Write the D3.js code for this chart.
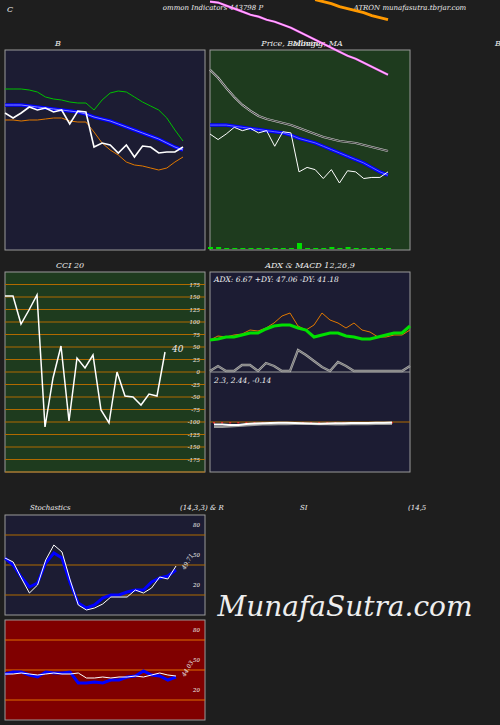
<!DOCTYPE html>
<html><head><meta charset="utf-8">
<script src="https://cdn.jsdelivr.net/npm/d3@7"></script>
<style>body{margin:0;background:#1e1e1e}text{font-family:"DejaVu Serif",serif;font-style:italic;fill:#eee}</style>
</head><body><svg id="c" width="500" height="725"></svg>
<script>
// Bollinger / price (price units)
var bbUpper = [161,161,161,160,158,153,151,150,148,147,147,140,150,157,159,158,153,148,144,140,132,120,109];
var bbMid   = [145,145,145,144,143,142,141,140,139,138,136,133,131,129,126,123,120,117,114,111,107,103,100];
var bbLower = [130,130,129,130,130,131,132,132,129,128,128,118,107,100,95,88,85,84,82,80,82,88,93];
var price   = [137,132,137,143,140,142,138,140,126,139,138,103,107,105,97,105,93,104,103,97,98,98,103];
var ma50    = [194.7,187.5,178.4,170.3,163.1,157.7,153.2,150.5,148.7,146.9,145.1,142.4,139.7,137,134.3,132.5,130.7,129.8,128.9,127.1,125.3,123.5,121.7];
var ma100   = [255.9,255,252.3,249.6,246.9,244.1,242.4,239.6,237.8,235.1,232.4,228.8,225.2,221.6,218,214.4,210.8,207.2,204.6,201,197.4,193.8,190.2];
var ma200   = [null,null,null,null,null,null,null,null,null,null,null,null,null,257.7,255.9,254.1,251.4,249.6,247.8,246,243.3,241.5,239.7];
var volume  = [2,2,1,1,1,1,1,1,1,1,1,6,1,1,1,2,1,2,1,1,1,1,1];
var cci     = [152,152,96,124,154,-110,-12,52,-98,28,8,34,-76,-102,0,-48,-50,-66,-44,-48,40];
var cciTicks = [175,150,125,100,75,50,25,0,-25,-50,-75,-100,-125,-150,-175];
var adx     = [32,33,35,35,37,39,39,43,46,47,47,44,42,35,37,39,39,36,35,33,33,35,37,39,39,46];
var plusDI  = [32,36,35,37,38,42,41,44,49,56,59,46,42,47,59,52,49,44,49,42,40,35,35,37,37,42];
var minusDI = [1,6,1,1,7,7,1,9,6,1,1,22,17,11,5,1,10,6,1,1,1,1,1,1,1,6];
var macd    = [-1,-1,-1.2,-1.2,-0.8,-0.6,-0.5,-0.4,-0.3,-0.3,-0.4,-0.5,-0.6,-0.7,-0.6,-0.5,-0.5,-0.4,-0.4,-0.4,-0.3,-0.3,-0.2];
var signal  = [-2,-2,-1.8,-1.6,-1.4,-1.2,-1,-1,-0.9,-0.9,-0.8,-0.8,-0.8,-0.9,-0.9,-1,-1,-0.9,-0.9,-0.9,-0.8,-0.8,-0.8];
var stochK  = [57,53,37,22,30,55,70,63,35,10,5,7,11,18,18,18,25,22,27,38,36,49];
var stochD  = [57,50,38,28,32,52,62,57,32,12,7,10,17,20,20,23,25,25,33,37,39,45];
var rsi     = [46,46,47,46,45,46,47,46,46,47,42,42,43,42,43,43,44,43,45,47,45,44];
var rsiMA   = [46,48,48,45,43,48,47,47,48,37,37,38,37,40,40,43,44,49,45,44,40,43];
var bandTicks = [80,50,20];

var svg = d3.select("#c");
function label(x,y,t,size,anchor){
  return svg.append("text").attr("x",x).attr("y",y).attr("font-size",size||10)
    .attr("text-anchor",anchor||"start").text(t);
}
function panel(x,y,w,h,fill){
  svg.append("rect").attr("x",x).attr("y",y).attr("width",w).attr("height",h)
    .attr("fill",fill).attr("stroke","#999").attr("stroke-width",1);
}
function line(data,xs,ys,color,width){
  var g = d3.line().defined(function(d){return d!=null;})
    .x(function(d,i){return xs(i);}).y(function(d){return ys(d);});
  svg.append("path").datum(data).attr("d",g).attr("fill","none")
    .attr("stroke",color).attr("stroke-width",width);
}
function dbl(data,xs,ys,outer,inner,w){ line(data,xs,ys,outer,w+1.5); line(data,xs,ys,inner,w*0.5); }

// headers
label(7,12,"C",8);
label(213,10,"ommon  Indicators 443798  P",7,"middle");
label(410,10,"ATRON  munafasutra.tbrjar.com",7,"middle");
label(58,46,"B",8,"middle");
label(302,46,"Price,  Bollinger,  MA",8,"middle");
label(302,46,"Moving",8,"middle").attr("dx",6);
label(495,46,"B",8);

// Bollinger panel
panel(5,50,200,200,"#1c1c33");
var xb = d3.scaleLinear().domain([0,22]).range([5,183]);
var yb = d3.scaleLinear().domain([0,200]).range([250,50]);
line(bbUpper,xb,yb,"#00c000",1);
line(bbLower,xb,yb,"#e07800",1);
dbl(bbMid,xb,yb,"#0000ff","#8888ff",2);
line(price,xb,yb,"#fff",1.6);

// Price MA panel
panel(210,50,200,200,"#1e3b1e");
var xp = d3.scaleLinear().domain([0,22]).range([210,388]);
var yp = d3.scaleLinear().domain([137,93]).range([134,183]);
var yv = d3.scaleLinear().domain([0,10]).range([249,239]);
svg.selectAll(".vol").data(volume).enter().append("rect")
  .attr("x",function(d,i){return xp(i)-2;}).attr("width",5)
  .attr("y",function(d){return yv(d);}).attr("height",function(d){return 249-yv(d);})
  .attr("fill","#00e000");
line(ma50,xp,yp,"#ccc",2.2); line(ma50,xp,yp,"#111",0.8);
line(ma100,xp,yp,"#ff66ff",2.2); line(ma100,xp,yp,"#fff",0.6);
line(ma200,xp,yp,"#ff9900",3);
dbl(bbMid,xp,yp,"#0000ff","#6666ff",2);
line(price,xp,yp,"#fff",1);

// CCI
label(70,268,"CCI 20",8,"middle");
label(310,268,"ADX   & MACD 12,26,9",8,"middle");
panel(5,272,200,200,"#1e3b1e");
var xc = d3.scaleLinear().domain([0,20]).range([5,165]);
var yc = d3.scaleLinear().domain([200,-200]).range([272,472]);
svg.selectAll(".cl").data(cciTicks.concat([-200])).enter().append("line")
  .attr("x1",5).attr("x2",205).attr("y1",function(d){return yc(d-12.5)-6.25;}).attr("y2",function(d){return yc(d-12.5)-6.25;})
  .attr("stroke","#b06a00").attr("stroke-width",1);
cciTicks.forEach(function(t){ label(200,yc(t)+2,t,5.5,"end"); });
line(cci,xc,yc,"#fff",1.5);
label(172,352,"40",9);

// ADX / MACD
panel(210,272,200,200,"#1c1c33");
svg.append("line").attr("x1",210).attr("x2",410).attr("y1",372).attr("y2",372).attr("stroke","#999");
var xa = d3.scaleLinear().domain([0,25]).range([210,410]);
var ya = d3.scaleLinear().domain([0,100]).range([372,272]);
line(plusDI,xa,ya,"#e07800",1);
line(adx,xa,ya,"#00e000",3);
dbl(minusDI,xa,ya,"#aaa","#222",0.8);
label(214,282,"ADX: 6.67 +DY: 47.06   -DY: 41.18",7.5);
label(214,383,"2.3,  2.44,  -0.14",7.5);
var xm = d3.scaleLinear().domain([0,22]).range([214,392]);
var ym = d3.scaleLinear().domain([-20,20]).range([472,372]);
svg.append("line").attr("x1",210).attr("x2",410).attr("y1",ym(0)).attr("y2",ym(0)).attr("stroke","#b06a00");
svg.selectAll(".h").data(macd).enter().append("rect")
  .attr("x",function(d,i){return xm(i)-1;}).attr("y",ym(0)).attr("width",2).attr("height",1.5).attr("fill","#e03030");
line(signal,xm,ym,"#999",2);
line(macd,xm,ym,"#fff",2);

// Stochastics
label(30,510,"Stochastics",7);
label(180,510,"(14,3,3) & R",7);
label(300,510,"SI",7);
label(408,510,"(14,5",7);
panel(5,515,200,100,"#1c1c33");
var xs = d3.scaleLinear().domain([0,21]).range([5,176]);
var ys = d3.scaleLinear().domain([0,100]).range([615,515]);
bandTicks.forEach(function(t){
  svg.append("line").attr("x1",5).attr("x2",205).attr("y1",ys(t)).attr("y2",ys(t)).attr("stroke","#b06a00");
  label(200,ys(t+10)+2,t,5.5,"end");
});
line(stochD,xs,ys,"#0000ff",3);
line(stochK,xs,ys,"#fff",1);
label(0,0,"49.71",6).attr("transform","translate(185,570) rotate(-60)");

// RSI
panel(5,620,200,100,"#800000");
var yr = d3.scaleLinear().domain([0,100]).range([720,620]);
bandTicks.forEach(function(t){
  svg.append("line").attr("x1",5).attr("x2",205).attr("y1",yr(t)).attr("y2",yr(t)).attr("stroke","#e07000");
  label(200,yr(t+10)+2,t,5.5,"end");
});
line(rsiMA,xs,yr,"#0000ff",3);
line(rsi,xs,yr,"#fff",1);
label(0,0,"44.03",6).attr("transform","translate(185,677) rotate(-60)");

label(345,616,"MunafaSutra.com",28,"middle");
</script></body></html>
